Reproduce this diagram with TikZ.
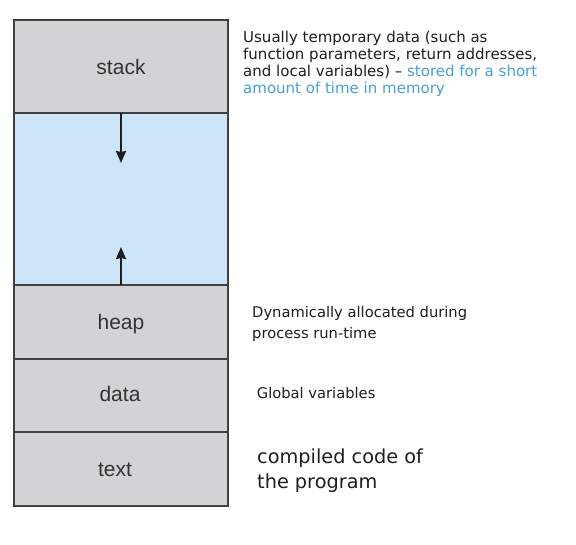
\documentclass[tikz,border=0pt]{standalone}
\usepackage{fontspec}
\setmainfont{DejaVu Sans}
\newfontfamily\labfont{Liberation Sans}
\usetikzlibrary{arrows.meta}
\definecolor{segfill}{HTML}{D3D2D5}
\definecolor{freefill}{HTML}{CDE5F8}
\definecolor{edge}{HTML}{404040}
\definecolor{note}{HTML}{45A0D5}
\definecolor{ink}{HTML}{1E1E1E}
\definecolor{labink}{HTML}{333333}
\begin{document}
\begin{tikzpicture}[x=1pt,y=-1pt,
  seg/.style={draw=edge,line width=1.5pt,fill=segfill,minimum width=214pt,inner sep=0pt,outer sep=0pt,anchor=north west},
  freeseg/.style={seg,fill=freefill},
  lab/.style={font=\labfont\fontsize{21}{24}\selectfont,text=labink,anchor=base,inner sep=0pt},
  ann/.style={font=\fontsize{15}{17}\selectfont,text=ink,anchor=base west,inner sep=0pt},
  annsmall/.style={font=\fontsize{14.7}{17}\selectfont,text=ink,anchor=base west,inner sep=0pt},
  annbig/.style={font=\fontsize{19.3}{22}\selectfont,text=ink,anchor=base west,inner sep=0pt},
  growarrow/.style={-{Stealth[length=12pt,width=10pt,inset=1pt]},line width=2pt,draw=ink}]
\useasboundingbox (0,0) rectangle (576,544);
\node[freeseg,minimum height=172pt] (free) at (14,113) {};
\node[seg,minimum height=93pt] (stack) at (14,20) {};
\node[seg,minimum height=74pt] (heap) at (14,285) {};
\node[seg,minimum height=73pt] (data) at (14,359) {};
\node[seg,minimum height=74pt] (text) at (14,432) {};
\node[lab] (stacklab) at (121,74) {stack};
\node[lab] (heaplab) at (121,329.3) {heap};
\node[lab] (datalab) at (120,401.7) {data};
\node[lab] (textlab) at (115,476) {text};
\coordinate (stacktip) at (121,163);
\coordinate (heaptip) at (121,247);
\draw[growarrow] (stack.south) -- (stacktip);
\draw[growarrow] (heap.north) -- (heaptip);
\node[ann] (n1) at (243,42.7) {Usually temporary data (such as};
\node[ann] (n2) at (243,59.6) {function parameters, return addresses,};
\node[ann] (n3) at (243,76.5) {and local variables) – \textcolor{note}{stored for a short}};
\node[ann,text=note] (n4) at (243,93.4) {amount of time in memory};
\node[annsmall] (h1) at (252,317.7) {Dynamically allocated during};
\node[annsmall] (h2) at (252,338) {process run-time};
\node[annsmall] (g1) at (256.7,398.3) {Global variables};
\node[annbig] (c1) at (257,463) {compiled code of};
\node[annbig] (c2) at (257,488) {the program};
\end{tikzpicture}
\end{document}
